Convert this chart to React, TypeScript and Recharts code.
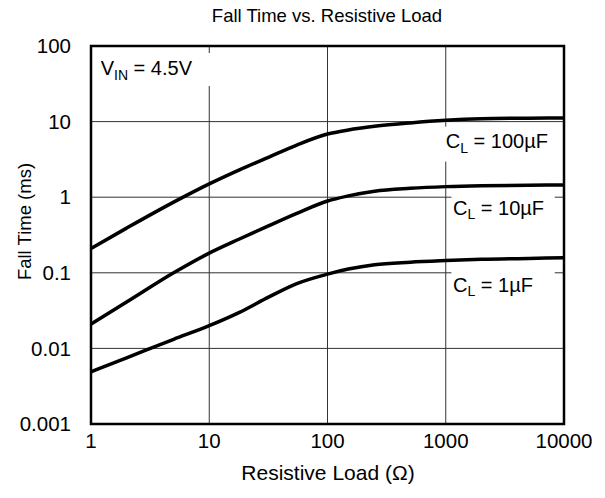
import React from 'react';
import { LineChart, Line, XAxis, YAxis, CartesianGrid, ReferenceArea, ReferenceDot } from 'recharts';

const resistance = [1, 2, 5, 10, 18, 32, 55, 100, 150, 250, 500, 1000, 2000, 5000, 10000];
const fall100uF = [0.21, 0.39, 0.86, 1.5, 2.3, 3.4, 4.9, 6.85, 7.75, 8.65, 9.6, 10.4, 10.9, 11.1, 11.2];
const fall10uF = [0.021, 0.041, 0.1, 0.182, 0.28, 0.42, 0.61, 0.89, 1.04, 1.2, 1.31, 1.38, 1.42, 1.44, 1.45];
const fall1uF = [0.0049, 0.0075, 0.0132, 0.02, 0.03, 0.048, 0.072, 0.096, 0.112, 0.128, 0.138, 0.145, 0.151, 0.155, 0.158];
const xTicks = [1, 10, 100, 1000, 10000];
const yTicks = [0.001, 0.01, 0.1, 1, 10, 100];

const data = resistance.map((r, i) => ({ r, c100: fall100uF[i], c10: fall10uF[i], c1: fall1uF[i] }));

const FONT = '"Liberation Sans", Arial, sans-serif';

const makeAnnot = (dx: number, dy: number, box: number[], main: string, sub: string, rest: string) =>
  (p: any) => {
    const { cx, cy } = p;
    return (
      <g>
        <rect x={cx + box[0]} y={cy + box[1]} width={box[2]} height={box[3]} fill="#fff" />
        <text x={cx + dx} y={cy + dy} fontSize={20} fill="#000" fontFamily={FONT} style={{ whiteSpace: 'pre' }}>
          {main}
          <tspan fontSize={14} dy={4.5}>{sub}</tspan>
          <tspan dy={-4.5}>{rest}</tspan>
        </text>
      </g>
    );
  };

export default function App() {
  return (
    <div style={{ width: 597, height: 490, position: 'relative' }}>
      <LineChart
        width={597}
        height={490}
        data={data}
        margin={{ top: 38, right: 41, left: 23, bottom: 44 }}
        style={{ fontFamily: FONT }}
      >
        <CartesianGrid stroke="#333" strokeWidth={1} />
        <XAxis
          dataKey="r"
          type="number"
          scale="log"
          domain={[1, 10000]}
          ticks={xTicks}
          allowDataOverflow
          height={30}
          tickLine={false}
          axisLine={false}
          tickSize={0}
          tickMargin={9}
          tick={{ fill: '#000', fontSize: 20.5 }}
          interval={0}
        />
        <YAxis
          type="number"
          scale="log"
          domain={[0.001, 100]}
          ticks={yTicks}
          allowDataOverflow
          width={60}
          tickLine={false}
          axisLine={false}
          tickSize={0}
          tickMargin={20}
          tick={{ fill: '#000', fontSize: 20.5 }}
          interval={0}
          tickFormatter={(v: number) => String(v)}
        />
        <ReferenceDot x={1} y={100} r={0} ifOverflow="visible"
          shape={makeAnnot(9.7, 29, [2, 7, 122, 33], 'V', 'IN', ' = 4.5V')} />
        <ReferenceDot x={1000} y={10} r={0} ifOverflow="visible"
          shape={makeAnnot(0, 26.6, [-6, 5, 116, 35], 'C', 'L', ' = 100µF')} />
        <ReferenceDot x={1000} y={1} r={0} ifOverflow="visible"
          shape={makeAnnot(7.3, 17.7, [5.7, -6, 103.3, 35], 'C', 'L', ' = 10µF')} />
        <ReferenceDot x={1000} y={0.1} r={0} ifOverflow="visible"
          shape={makeAnnot(7.3, 18.8, [5.7, -5, 103.3, 35], 'C', 'L', ' = 1µF')} />
        <ReferenceArea x1={1} x2={10000} y1={0.001} y2={100} fill="none" stroke="#000" strokeWidth={2.5} ifOverflow="visible" />
        <Line dataKey="c100" type="monotone" stroke="#000" strokeWidth={3.5} dot={false} isAnimationActive={false} />
        <Line dataKey="c10" type="monotone" stroke="#000" strokeWidth={3.5} dot={false} isAnimationActive={false} />
        <Line dataKey="c1" type="monotone" stroke="#000" strokeWidth={3.5} dot={false} isAnimationActive={false} />
      </LineChart>
      <svg width={597} height={490} style={{ position: 'absolute', left: 0, top: 0, pointerEvents: 'none', overflow: 'visible' }}>
        <text x={319} y={14} textAnchor="middle" fontSize={18.5} fontFamily={FONT} fill="#000">Fall Time vs. Resistive Load</text>
        <text x={320} y={472} textAnchor="middle" fontSize={21} fontFamily={FONT} fill="#000">Resistive Load (Ω)</text>
        <text transform="translate(16,213.5) rotate(-90)" x={0} y={0} textAnchor="middle" dominantBaseline="central" fontSize={18.5} fontFamily={FONT} fill="#000">Fall Time (ms)</text>
      </svg>
    </div>
  );
}
